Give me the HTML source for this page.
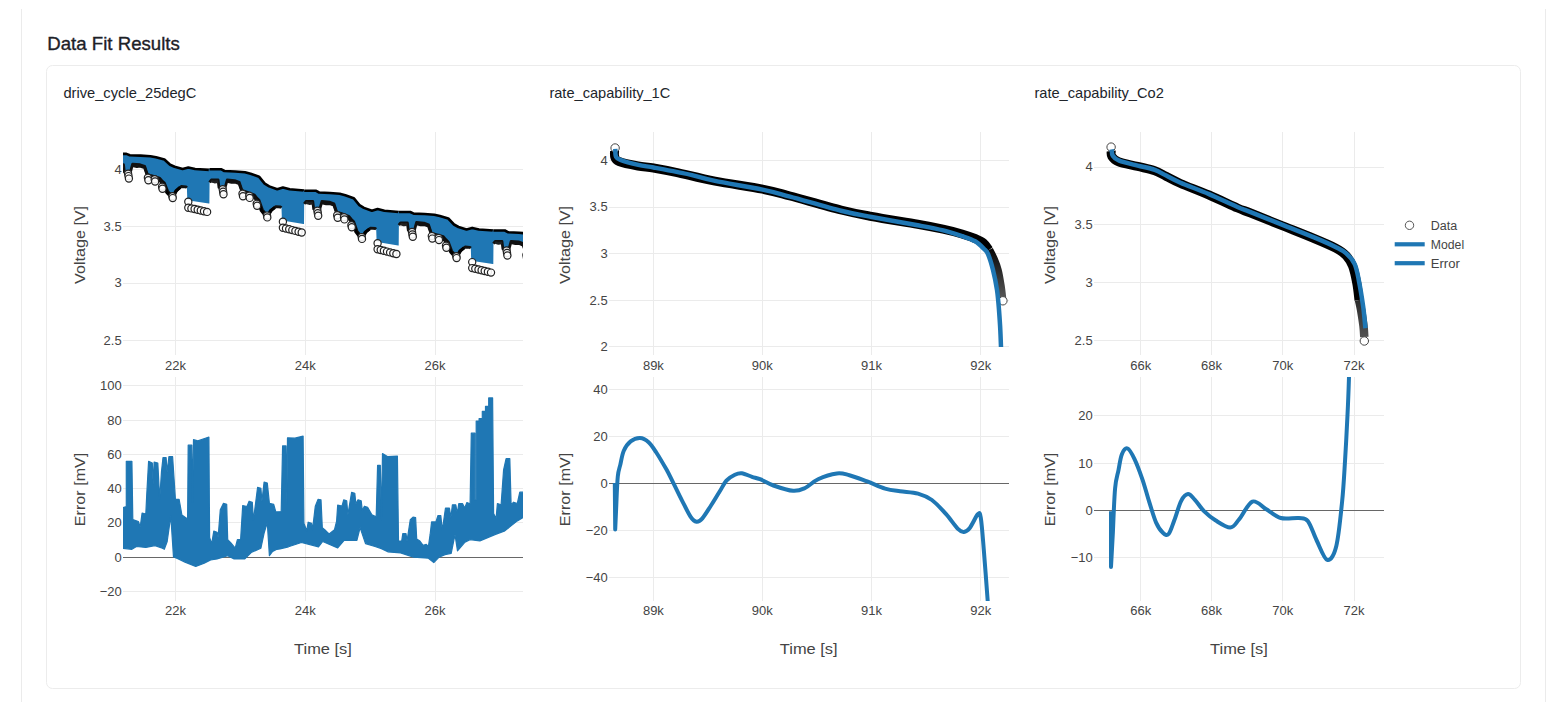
<!DOCTYPE html>
<html><head><meta charset="utf-8"><title>Data Fit Results</title>
<style>html,body{margin:0;padding:0;background:#fff;width:1566px;height:702px;overflow:hidden}</style>
</head><body>
<svg width="1566" height="702" viewBox="0 0 1566 702" style="position:absolute;left:0;top:0;font-family:'Liberation Sans',sans-serif">
<rect x="21" y="9" width="1" height="700" fill="#ebebeb"/>
<rect x="1545" y="9" width="1" height="700" fill="#ebebeb"/>
<rect x="46.5" y="65.5" width="1474" height="623" rx="6" ry="6" fill="#fff" stroke="#ececec" stroke-width="1"/>
<text x="47.3" y="49.7" font-size="18.6" text-anchor="start" fill="#1d2127" textLength="132.5" lengthAdjust="spacingAndGlyphs" font-weight="400" stroke="#1d2127" stroke-width="0.35">Data Fit Results</text>
<text x="63.4" y="97.7" font-size="14.6" text-anchor="start" fill="#21252b" textLength="133" lengthAdjust="spacingAndGlyphs" >drive_cycle_25degC</text>
<line x1="175.5" y1="132" x2="175.5" y2="355" stroke="#ebebeb" stroke-width="1" shape-rendering="crispEdges"/>
<line x1="305.3" y1="132" x2="305.3" y2="355" stroke="#ebebeb" stroke-width="1" shape-rendering="crispEdges"/>
<line x1="435.1" y1="132" x2="435.1" y2="355" stroke="#ebebeb" stroke-width="1" shape-rendering="crispEdges"/>
<line x1="123" y1="169.5" x2="523" y2="169.5" stroke="#ebebeb" stroke-width="1" shape-rendering="crispEdges"/>
<line x1="123" y1="226.3" x2="523" y2="226.3" stroke="#ebebeb" stroke-width="1" shape-rendering="crispEdges"/>
<line x1="123" y1="283.0" x2="523" y2="283.0" stroke="#ebebeb" stroke-width="1" shape-rendering="crispEdges"/>
<line x1="123" y1="340.7" x2="523" y2="340.7" stroke="#ebebeb" stroke-width="1" shape-rendering="crispEdges"/>
<line x1="175.5" y1="377" x2="175.5" y2="601" stroke="#ebebeb" stroke-width="1" shape-rendering="crispEdges"/>
<line x1="305.3" y1="377" x2="305.3" y2="601" stroke="#ebebeb" stroke-width="1" shape-rendering="crispEdges"/>
<line x1="435.1" y1="377" x2="435.1" y2="601" stroke="#ebebeb" stroke-width="1" shape-rendering="crispEdges"/>
<line x1="123" y1="385.9" x2="523" y2="385.9" stroke="#ebebeb" stroke-width="1" shape-rendering="crispEdges"/>
<line x1="123" y1="420.4" x2="523" y2="420.4" stroke="#ebebeb" stroke-width="1" shape-rendering="crispEdges"/>
<line x1="123" y1="454.6" x2="523" y2="454.6" stroke="#ebebeb" stroke-width="1" shape-rendering="crispEdges"/>
<line x1="123" y1="488.8" x2="523" y2="488.8" stroke="#ebebeb" stroke-width="1" shape-rendering="crispEdges"/>
<line x1="123" y1="522.6" x2="523" y2="522.6" stroke="#ebebeb" stroke-width="1" shape-rendering="crispEdges"/>
<line x1="123" y1="557.2" x2="523" y2="557.2" stroke="#ebebeb" stroke-width="1" shape-rendering="crispEdges"/>
<line x1="123" y1="591.4" x2="523" y2="591.4" stroke="#ebebeb" stroke-width="1" shape-rendering="crispEdges"/>
<line x1="123" y1="557.2" x2="523" y2="557.2" stroke="#676767" stroke-width="1" shape-rendering="crispEdges"/>
<text x="175.5" y="370.3" font-size="13" text-anchor="middle" fill="#444" >22k</text>
<text x="175.5" y="615" font-size="13" text-anchor="middle" fill="#444" >22k</text>
<text x="305.3" y="370.3" font-size="13" text-anchor="middle" fill="#444" >24k</text>
<text x="305.3" y="615" font-size="13" text-anchor="middle" fill="#444" >24k</text>
<text x="435.1" y="370.3" font-size="13" text-anchor="middle" fill="#444" >26k</text>
<text x="435.1" y="615" font-size="13" text-anchor="middle" fill="#444" >26k</text>
<text x="121.7" y="173.9" font-size="13" text-anchor="end" fill="#444" >4</text>
<text x="121.7" y="230.70000000000002" font-size="13" text-anchor="end" fill="#444" >3.5</text>
<text x="121.7" y="287.4" font-size="13" text-anchor="end" fill="#444" >3</text>
<text x="121.7" y="345.09999999999997" font-size="13" text-anchor="end" fill="#444" >2.5</text>
<text x="121.7" y="390.29999999999995" font-size="13" text-anchor="end" fill="#444" >100</text>
<text x="121.7" y="424.79999999999995" font-size="13" text-anchor="end" fill="#444" >80</text>
<text x="121.7" y="459.0" font-size="13" text-anchor="end" fill="#444" >60</text>
<text x="121.7" y="493.2" font-size="13" text-anchor="end" fill="#444" >40</text>
<text x="121.7" y="527.0" font-size="13" text-anchor="end" fill="#444" >20</text>
<text x="121.7" y="561.6" font-size="13" text-anchor="end" fill="#444" >0</text>
<text x="121.7" y="595.8" font-size="13" text-anchor="end" fill="#444" >−20</text>
<text x="0" y="0" font-size="14" text-anchor="middle" fill="#444" textLength="78" lengthAdjust="spacingAndGlyphs" transform="translate(85,244.9) rotate(-90)">Voltage [V]</text>
<text x="0" y="0" font-size="14" text-anchor="middle" fill="#444" textLength="73.5" lengthAdjust="spacingAndGlyphs" transform="translate(85,489.4) rotate(-90)">Error [mV]</text>
<text x="323.0" y="653.8" font-size="14" text-anchor="middle" fill="#444" textLength="57.8" lengthAdjust="spacingAndGlyphs" >Time [s]</text>
<text x="549.4" y="97.7" font-size="14.6" text-anchor="start" fill="#21252b" >rate_capability_1C</text>
<line x1="653.4" y1="132" x2="653.4" y2="355" stroke="#ebebeb" stroke-width="1" shape-rendering="crispEdges"/>
<line x1="762.2" y1="132" x2="762.2" y2="355" stroke="#ebebeb" stroke-width="1" shape-rendering="crispEdges"/>
<line x1="871.5" y1="132" x2="871.5" y2="355" stroke="#ebebeb" stroke-width="1" shape-rendering="crispEdges"/>
<line x1="980.7" y1="132" x2="980.7" y2="355" stroke="#ebebeb" stroke-width="1" shape-rendering="crispEdges"/>
<line x1="609" y1="160.2" x2="1008.5" y2="160.2" stroke="#ebebeb" stroke-width="1" shape-rendering="crispEdges"/>
<line x1="609" y1="207.0" x2="1008.5" y2="207.0" stroke="#ebebeb" stroke-width="1" shape-rendering="crispEdges"/>
<line x1="609" y1="253.7" x2="1008.5" y2="253.7" stroke="#ebebeb" stroke-width="1" shape-rendering="crispEdges"/>
<line x1="609" y1="300.4" x2="1008.5" y2="300.4" stroke="#ebebeb" stroke-width="1" shape-rendering="crispEdges"/>
<line x1="609" y1="346.9" x2="1008.5" y2="346.9" stroke="#ebebeb" stroke-width="1" shape-rendering="crispEdges"/>
<line x1="653.4" y1="377" x2="653.4" y2="601" stroke="#ebebeb" stroke-width="1" shape-rendering="crispEdges"/>
<line x1="762.2" y1="377" x2="762.2" y2="601" stroke="#ebebeb" stroke-width="1" shape-rendering="crispEdges"/>
<line x1="871.5" y1="377" x2="871.5" y2="601" stroke="#ebebeb" stroke-width="1" shape-rendering="crispEdges"/>
<line x1="980.7" y1="377" x2="980.7" y2="601" stroke="#ebebeb" stroke-width="1" shape-rendering="crispEdges"/>
<line x1="609" y1="389.2" x2="1008.5" y2="389.2" stroke="#ebebeb" stroke-width="1" shape-rendering="crispEdges"/>
<line x1="609" y1="436.5" x2="1008.5" y2="436.5" stroke="#ebebeb" stroke-width="1" shape-rendering="crispEdges"/>
<line x1="609" y1="483.3" x2="1008.5" y2="483.3" stroke="#ebebeb" stroke-width="1" shape-rendering="crispEdges"/>
<line x1="609" y1="530.5" x2="1008.5" y2="530.5" stroke="#ebebeb" stroke-width="1" shape-rendering="crispEdges"/>
<line x1="609" y1="577.7" x2="1008.5" y2="577.7" stroke="#ebebeb" stroke-width="1" shape-rendering="crispEdges"/>
<line x1="609" y1="483.3" x2="1008.5" y2="483.3" stroke="#676767" stroke-width="1" shape-rendering="crispEdges"/>
<text x="653.4" y="370.3" font-size="13" text-anchor="middle" fill="#444" >89k</text>
<text x="653.4" y="615" font-size="13" text-anchor="middle" fill="#444" >89k</text>
<text x="762.2" y="370.3" font-size="13" text-anchor="middle" fill="#444" >90k</text>
<text x="762.2" y="615" font-size="13" text-anchor="middle" fill="#444" >90k</text>
<text x="871.5" y="370.3" font-size="13" text-anchor="middle" fill="#444" >91k</text>
<text x="871.5" y="615" font-size="13" text-anchor="middle" fill="#444" >91k</text>
<text x="980.7" y="370.3" font-size="13" text-anchor="middle" fill="#444" >92k</text>
<text x="980.7" y="615" font-size="13" text-anchor="middle" fill="#444" >92k</text>
<text x="607.7" y="164.6" font-size="13" text-anchor="end" fill="#444" >4</text>
<text x="607.7" y="211.4" font-size="13" text-anchor="end" fill="#444" >3.5</text>
<text x="607.7" y="258.09999999999997" font-size="13" text-anchor="end" fill="#444" >3</text>
<text x="607.7" y="304.79999999999995" font-size="13" text-anchor="end" fill="#444" >2.5</text>
<text x="607.7" y="351.29999999999995" font-size="13" text-anchor="end" fill="#444" >2</text>
<text x="607.7" y="393.59999999999997" font-size="13" text-anchor="end" fill="#444" >40</text>
<text x="607.7" y="440.9" font-size="13" text-anchor="end" fill="#444" >20</text>
<text x="607.7" y="487.7" font-size="13" text-anchor="end" fill="#444" >0</text>
<text x="607.7" y="534.9" font-size="13" text-anchor="end" fill="#444" >−20</text>
<text x="607.7" y="582.1" font-size="13" text-anchor="end" fill="#444" >−40</text>
<text x="0" y="0" font-size="14" text-anchor="middle" fill="#444" textLength="78" lengthAdjust="spacingAndGlyphs" transform="translate(570,244.9) rotate(-90)">Voltage [V]</text>
<text x="0" y="0" font-size="14" text-anchor="middle" fill="#444" textLength="73.5" lengthAdjust="spacingAndGlyphs" transform="translate(570,489.4) rotate(-90)">Error [mV]</text>
<text x="808.75" y="653.8" font-size="14" text-anchor="middle" fill="#444" textLength="57.8" lengthAdjust="spacingAndGlyphs" >Time [s]</text>
<text x="1034.4" y="97.7" font-size="14.6" text-anchor="start" fill="#21252b" textLength="129.4" lengthAdjust="spacingAndGlyphs" >rate_capability_Co2</text>
<line x1="1140.8" y1="132" x2="1140.8" y2="355" stroke="#ebebeb" stroke-width="1" shape-rendering="crispEdges"/>
<line x1="1211.6" y1="132" x2="1211.6" y2="355" stroke="#ebebeb" stroke-width="1" shape-rendering="crispEdges"/>
<line x1="1282.8" y1="132" x2="1282.8" y2="355" stroke="#ebebeb" stroke-width="1" shape-rendering="crispEdges"/>
<line x1="1354.0" y1="132" x2="1354.0" y2="355" stroke="#ebebeb" stroke-width="1" shape-rendering="crispEdges"/>
<line x1="1094" y1="167.0" x2="1384" y2="167.0" stroke="#ebebeb" stroke-width="1" shape-rendering="crispEdges"/>
<line x1="1094" y1="224.8" x2="1384" y2="224.8" stroke="#ebebeb" stroke-width="1" shape-rendering="crispEdges"/>
<line x1="1094" y1="282.2" x2="1384" y2="282.2" stroke="#ebebeb" stroke-width="1" shape-rendering="crispEdges"/>
<line x1="1094" y1="340.4" x2="1384" y2="340.4" stroke="#ebebeb" stroke-width="1" shape-rendering="crispEdges"/>
<line x1="1140.8" y1="377" x2="1140.8" y2="601" stroke="#ebebeb" stroke-width="1" shape-rendering="crispEdges"/>
<line x1="1211.6" y1="377" x2="1211.6" y2="601" stroke="#ebebeb" stroke-width="1" shape-rendering="crispEdges"/>
<line x1="1282.8" y1="377" x2="1282.8" y2="601" stroke="#ebebeb" stroke-width="1" shape-rendering="crispEdges"/>
<line x1="1354.0" y1="377" x2="1354.0" y2="601" stroke="#ebebeb" stroke-width="1" shape-rendering="crispEdges"/>
<line x1="1094" y1="415.7" x2="1384" y2="415.7" stroke="#ebebeb" stroke-width="1" shape-rendering="crispEdges"/>
<line x1="1094" y1="463.2" x2="1384" y2="463.2" stroke="#ebebeb" stroke-width="1" shape-rendering="crispEdges"/>
<line x1="1094" y1="510.2" x2="1384" y2="510.2" stroke="#ebebeb" stroke-width="1" shape-rendering="crispEdges"/>
<line x1="1094" y1="557.6" x2="1384" y2="557.6" stroke="#ebebeb" stroke-width="1" shape-rendering="crispEdges"/>
<line x1="1094" y1="510.2" x2="1384" y2="510.2" stroke="#676767" stroke-width="1" shape-rendering="crispEdges"/>
<text x="1140.8" y="370.3" font-size="13" text-anchor="middle" fill="#444" >66k</text>
<text x="1140.8" y="615" font-size="13" text-anchor="middle" fill="#444" >66k</text>
<text x="1211.6" y="370.3" font-size="13" text-anchor="middle" fill="#444" >68k</text>
<text x="1211.6" y="615" font-size="13" text-anchor="middle" fill="#444" >68k</text>
<text x="1282.8" y="370.3" font-size="13" text-anchor="middle" fill="#444" >70k</text>
<text x="1282.8" y="615" font-size="13" text-anchor="middle" fill="#444" >70k</text>
<text x="1354.0" y="370.3" font-size="13" text-anchor="middle" fill="#444" >72k</text>
<text x="1354.0" y="615" font-size="13" text-anchor="middle" fill="#444" >72k</text>
<text x="1092.7" y="171.4" font-size="13" text-anchor="end" fill="#444" >4</text>
<text x="1092.7" y="229.20000000000002" font-size="13" text-anchor="end" fill="#444" >3.5</text>
<text x="1092.7" y="286.59999999999997" font-size="13" text-anchor="end" fill="#444" >3</text>
<text x="1092.7" y="344.79999999999995" font-size="13" text-anchor="end" fill="#444" >2.5</text>
<text x="1092.7" y="420.09999999999997" font-size="13" text-anchor="end" fill="#444" >20</text>
<text x="1092.7" y="467.59999999999997" font-size="13" text-anchor="end" fill="#444" >10</text>
<text x="1092.7" y="514.6" font-size="13" text-anchor="end" fill="#444" >0</text>
<text x="1092.7" y="562.0" font-size="13" text-anchor="end" fill="#444" >−10</text>
<text x="0" y="0" font-size="14" text-anchor="middle" fill="#444" textLength="78" lengthAdjust="spacingAndGlyphs" transform="translate(1055,244.9) rotate(-90)">Voltage [V]</text>
<text x="0" y="0" font-size="14" text-anchor="middle" fill="#444" textLength="73.5" lengthAdjust="spacingAndGlyphs" transform="translate(1055,489.4) rotate(-90)">Error [mV]</text>
<text x="1239.0" y="653.8" font-size="14" text-anchor="middle" fill="#444" textLength="57.8" lengthAdjust="spacingAndGlyphs" >Time [s]</text>
<defs><clipPath id="c1t"><rect x="123" y="132" width="400" height="223"/></clipPath><clipPath id="c1b"><rect x="123" y="377" width="400" height="224"/></clipPath><clipPath id="c2t"><rect x="609" y="132" width="400" height="215"/></clipPath><clipPath id="c2b"><rect x="609" y="377" width="400" height="224"/></clipPath><clipPath id="c3t"><rect x="1096" y="132" width="288" height="223"/></clipPath><clipPath id="c3b"><rect x="1096" y="377" width="288" height="224"/></clipPath><linearGradient id="g2" gradientUnits="userSpaceOnUse" x1="0" y1="245" x2="0" y2="300"><stop offset="0" stop-color="#000"/><stop offset="1" stop-color="#5a5a5a"/></linearGradient><linearGradient id="g3" gradientUnits="userSpaceOnUse" x1="0" y1="260" x2="0" y2="340"><stop offset="0" stop-color="#000"/><stop offset="1" stop-color="#555"/></linearGradient></defs>
<g clip-path="url(#c2t)">
<path d="M614.6,151.0 C614.6,152.0 614.1,155.2 614.8,157.0 C615.5,158.8 615.1,160.0 619.0,161.5 C622.9,163.0 632.2,164.9 638.0,166.0 C643.8,167.1 647.3,166.9 653.6,168.0 C659.9,169.1 665.8,170.1 676.0,172.3 C686.2,174.5 700.6,178.4 715.0,181.2 C729.4,184.0 750.0,186.7 762.5,189.2 C775.0,191.7 776.9,192.5 790.0,196.0 C803.1,199.5 827.4,206.6 841.0,210.0 C854.6,213.4 858.9,214.1 871.7,216.5 C884.5,218.9 905.8,222.2 917.7,224.3 C929.6,226.4 935.6,227.6 943.0,229.2 C950.4,230.8 956.7,232.4 962.0,234.0 C967.3,235.6 971.4,237.0 975.0,238.5 C978.6,240.0 981.2,241.1 983.5,243.0 C985.8,244.9 988.1,248.8 989.0,250.0" fill="none" stroke="#000" stroke-width="9" stroke-linejoin="round" stroke-linecap="butt" />
<path d="M989.0,250.0 C989.8,251.5 992.1,255.7 993.5,259.0 C994.9,262.3 996.3,265.5 997.5,270.0 C998.7,274.5 999.7,281.0 1000.5,286.0 C1001.3,291.0 1001.9,297.7 1002.2,300.0" fill="none" stroke="url(#g2)" stroke-width="8.5" stroke-linejoin="round" stroke-linecap="butt" />
<circle cx="615.1" cy="148.0" r="4.2" fill="#fff" stroke="#444" stroke-width="1" />
<circle cx="1002.9" cy="300.8" r="4.2" fill="#fff" stroke="#444" stroke-width="1" />
<path d="M615.3,148.9 C615.4,150.2 615.1,154.8 616.0,156.6 C616.9,158.4 616.7,158.4 620.4,159.8 C624.1,161.2 632.8,163.6 638.3,164.9 C643.8,166.2 647.2,166.3 653.6,167.5 C660.0,168.7 670.2,170.6 676.6,171.9 C683.0,173.2 685.6,173.6 692.0,175.1 C698.4,176.6 703.2,178.5 715.0,180.9 C726.8,183.3 750.0,187.0 762.5,189.6 C775.0,192.2 776.9,193.1 790.0,196.6 C803.1,200.1 827.5,207.3 841.1,210.7 C854.7,214.1 858.9,214.6 871.7,217.0 C884.5,219.4 905.8,223.1 917.7,225.3 C929.6,227.5 935.8,228.6 943.3,230.4 C950.8,232.2 957.1,234.4 962.4,236.2 C967.7,238.0 971.6,239.2 975.2,241.3 C978.8,243.4 982.0,246.9 984.1,249.0 C986.2,251.1 986.5,250.5 988.0,254.0 C989.5,257.5 991.5,264.0 993.0,270.0 C994.5,276.0 996.0,283.3 997.0,290.0 C998.0,296.7 998.5,303.4 999.0,310.0 C999.5,316.6 1000.0,323.6 1000.3,329.8 C1000.6,336.0 1000.9,344.1 1001.0,347.0" fill="none" stroke="#1f77b4" stroke-width="4.5" stroke-linejoin="round" stroke-linecap="butt" />
</g>
<g clip-path="url(#c2b)">
<polyline points="614.8,483.0 615.2,529.5 616.3,505.0" fill="none" stroke="#1f77b4" stroke-width="4" stroke-linejoin="round" stroke-linecap="butt" />
<path d="M616.3,505.0 C616.5,500.2 617.1,483.2 617.8,476.4 C618.5,469.6 619.4,468.7 620.4,464.4 C621.4,460.1 622.1,454.6 623.8,450.8 C625.5,447.0 627.9,443.5 630.6,441.4 C633.3,439.3 637.0,437.9 640.0,438.0 C643.0,438.1 645.9,439.8 648.6,442.2 C651.3,444.6 653.3,447.9 656.3,452.5 C659.3,457.1 663.6,464.5 666.5,469.6 C669.4,474.7 670.8,478.1 673.4,483.2 C676.0,488.3 679.0,494.7 681.9,500.3 C684.8,505.9 688.1,513.0 690.5,516.6 C692.9,520.2 694.5,521.4 696.5,521.7 C698.5,522.0 700.0,521.0 702.4,518.3 C704.8,515.6 708.1,509.9 711.0,505.5 C713.9,501.1 716.9,495.9 719.5,491.8 C722.1,487.7 723.8,483.6 726.4,480.7 C729.0,477.8 732.3,475.9 734.9,474.7 C737.5,473.5 738.9,472.9 741.8,473.3 C744.6,473.7 749.0,475.8 752.0,476.8 C755.0,477.8 756.4,477.8 760.0,479.2 C763.6,480.6 767.9,483.6 773.4,485.5 C778.9,487.4 787.9,490.4 793.1,490.8 C798.3,491.2 800.5,490.1 804.7,488.2 C808.9,486.3 812.7,481.7 818.1,479.2 C823.5,476.7 831.7,474.1 836.9,473.4 C842.1,472.7 844.3,473.9 849.4,475.2 C854.5,476.5 861.2,479.2 867.2,481.4 C873.2,483.6 879.6,487.0 885.1,488.6 C890.6,490.2 894.5,490.5 900.0,491.3 C905.5,492.1 912.7,492.2 918.0,493.6 C923.3,495.1 927.2,496.6 931.9,500.0 C936.5,503.4 941.6,509.1 945.9,513.9 C950.2,518.7 954.9,525.9 957.9,528.9 C960.9,531.9 961.9,532.1 963.9,531.9 C965.9,531.7 967.5,530.8 969.8,527.9 C972.1,525.0 976.0,516.0 977.8,514.3 C979.6,512.6 979.8,512.0 980.8,517.9 C981.8,523.8 982.6,535.3 983.8,549.8 C985.0,564.3 987.3,595.8 988.0,605.0" fill="none" stroke="#1f77b4" stroke-width="4" stroke-linejoin="round" stroke-linecap="butt" />
</g>
<g clip-path="url(#c3t)">
<path d="M1111.2,151.0 C1111.3,151.9 1110.6,154.7 1111.8,156.5 C1113.0,158.3 1114.2,160.2 1118.5,161.8 C1122.8,163.5 1131.7,164.9 1137.7,166.4 C1143.8,167.9 1150.0,169.0 1154.8,170.7 C1159.5,172.4 1161.9,174.3 1166.2,176.4 C1170.5,178.5 1173.4,180.4 1180.5,183.5 C1187.6,186.6 1199.5,190.9 1209.0,195.0 C1218.5,199.1 1230.7,205.0 1237.5,208.0 C1244.3,211.0 1242.6,209.9 1250.0,212.8 C1257.4,215.7 1271.3,221.3 1282.0,225.6 C1292.7,229.9 1305.2,234.8 1314.1,238.5 C1323.0,242.2 1330.2,245.2 1335.5,248.0 C1340.8,250.8 1343.4,252.6 1346.2,255.6 C1349.0,258.6 1350.8,261.6 1352.6,266.2 C1354.4,270.8 1355.7,277.7 1356.8,283.3 C1357.9,288.9 1358.6,297.2 1359.0,300.0" fill="none" stroke="#000" stroke-width="9" stroke-linejoin="round" stroke-linecap="butt" />
<path d="M1359.0,300.0 C1359.3,301.7 1360.3,305.7 1361.1,310.0 C1361.8,314.3 1363.0,321.5 1363.5,326.0 C1364.0,330.5 1364.2,335.2 1364.3,337.0" fill="none" stroke="url(#g3)" stroke-width="8.5" stroke-linejoin="round" stroke-linecap="butt" />
<circle cx="1111.1" cy="147.1" r="4.2" fill="#fff" stroke="#444" stroke-width="1" />
<circle cx="1364.3" cy="341.0" r="4.2" fill="#fff" stroke="#444" stroke-width="1" />
<path d="M1111.7,149.3 C1111.9,150.4 1111.5,153.8 1112.8,155.7 C1114.0,157.6 1115.0,159.0 1119.2,160.7 C1123.4,162.3 1131.8,164.1 1137.7,165.6 C1143.6,167.1 1150.0,168.2 1154.8,169.9 C1159.5,171.6 1161.9,173.5 1166.2,175.6 C1170.5,177.7 1173.4,179.6 1180.5,182.7 C1187.6,185.8 1199.5,190.0 1209.0,194.1 C1218.5,198.2 1230.7,204.1 1237.5,207.0 C1244.3,209.9 1242.6,208.9 1250.0,211.8 C1257.4,214.7 1271.3,220.3 1282.0,224.6 C1292.7,228.9 1305.2,233.7 1314.1,237.4 C1323.0,241.1 1330.2,244.3 1335.5,247.0 C1340.8,249.7 1343.0,250.6 1346.2,253.4 C1349.4,256.2 1352.6,259.5 1354.7,264.1 C1356.8,268.7 1357.6,274.1 1359.0,281.2 C1360.4,288.3 1362.1,299.0 1363.2,306.8 C1364.3,314.6 1365.0,324.6 1365.4,328.2" fill="none" stroke="#1f77b4" stroke-width="4.5" stroke-linejoin="round" stroke-linecap="butt" />
</g>
<g clip-path="url(#c3b)">
<polyline points="1111.0,511.2 1111.0,567.0 1112.8,534.0" fill="none" stroke="#1f77b4" stroke-width="4" stroke-linejoin="round" stroke-linecap="butt" />
<path d="M1112.8,534.0 C1113.2,526.4 1114.1,499.0 1115.1,488.4 C1116.0,477.8 1117.4,475.8 1118.5,470.1 C1119.6,464.4 1120.4,457.8 1121.9,454.2 C1123.4,450.6 1125.5,447.7 1127.6,448.5 C1129.7,449.3 1131.9,453.7 1134.4,458.8 C1136.9,463.9 1139.9,472.1 1142.4,479.3 C1144.9,486.5 1147.0,494.9 1149.3,502.1 C1151.6,509.3 1153.8,517.5 1156.1,522.6 C1158.4,527.7 1160.8,530.9 1162.9,532.8 C1165.0,534.7 1166.7,536.1 1168.6,534.0 C1170.5,531.9 1172.2,525.8 1174.3,520.3 C1176.4,514.8 1178.9,505.3 1181.2,500.9 C1183.5,496.5 1185.7,494.3 1188.0,494.1 C1190.3,493.9 1192.2,497.0 1194.9,499.8 C1197.6,502.6 1200.6,507.8 1204.0,511.2 C1207.4,514.6 1211.0,517.6 1215.4,520.3 C1219.8,523.0 1226.3,527.6 1230.2,527.5 C1234.1,527.4 1235.3,523.8 1239.0,519.5 C1242.7,515.2 1247.9,503.4 1252.4,501.6 C1256.9,499.9 1261.2,506.3 1265.9,509.0 C1270.6,511.7 1275.3,516.5 1280.8,518.0 C1286.3,519.5 1294.3,517.5 1298.8,518.0 C1303.3,518.5 1304.8,517.2 1307.8,521.0 C1310.8,524.8 1313.5,534.0 1316.7,540.5 C1319.9,547.0 1324.0,558.9 1327.2,559.9 C1330.5,560.9 1333.7,556.1 1336.2,546.4 C1338.7,536.7 1340.6,516.1 1342.1,501.6 C1343.6,487.2 1344.2,474.1 1345.1,459.7 C1346.0,445.2 1346.8,428.7 1347.5,414.9 C1348.2,401.1 1348.8,383.3 1349.0,377.0" fill="none" stroke="#1f77b4" stroke-width="4" stroke-linejoin="round" stroke-linecap="butt" />
</g>
<circle cx="1409.5" cy="225.3" r="4.2" fill="#fff" stroke="#555" stroke-width="1" />
<rect x="1394.7" y="242.2" width="30" height="4.2" fill="#1f77b4"/>
<rect x="1394.7" y="261.1" width="30" height="4.2" fill="#1f77b4"/>
<text x="1430.8" y="229.9" font-size="12" fill="#444" textLength="26.4" lengthAdjust="spacingAndGlyphs">Data</text>
<text x="1430.8" y="248.9" font-size="12" fill="#444" textLength="33.3" lengthAdjust="spacingAndGlyphs">Model</text>
<text x="1430.8" y="267.8" font-size="12" fill="#444" textLength="29" lengthAdjust="spacingAndGlyphs">Error</text>
<g clip-path="url(#c1b)">
<polygon points="123.2,507.6 126.3,506.7 126.3,461.3 131.9,461.3 132.8,519.6 138.4,521.5 140.2,527.0 142.1,513.1 145.8,514.1 146.7,495.6 148.6,461.3 152.3,463.1 153.2,484.4 154.1,462.2 157.8,463.1 159.7,499.3 161.5,471.5 163.0,457.6 166.1,457.6 167.1,472.4 168.9,456.7 172.6,456.7 175.4,499.3 179.1,499.3 181.9,515.0 186.5,518.3 187.6,518.3 188.2,445.2 191.8,445.2 192.5,502.3 193.5,439.7 197.8,440.9 205.3,438.2 208.9,437.1 209.6,537.5 211.7,543.9 213.8,531.1 217.1,532.2 218.1,537.5 220.3,509.7 223.5,503.3 226.7,504.4 227.7,539.7 230.9,542.9 235.2,548.2 237.4,539.7 240.6,539.7 242.7,505.5 247.0,506.5 249.1,501.2 252.3,502.3 253.4,520.4 257.6,487.3 260.9,488.4 261.9,501.2 264.1,482.0 267.3,483.0 269.4,503.3 273.7,504.4 275.8,511.9 281.2,511.5 282.6,445.9 286.0,445.9 286.8,504.1 287.5,437.8 295.0,438.2 303.1,436.1 303.9,523.3 306.7,530.8 308.2,522.2 311.6,523.3 312.5,529.7 315.3,506.2 318.0,499.4 321.0,499.8 322.3,527.6 325.9,530.8 329.1,534.0 334.5,529.7 336.6,521.2 337.7,505.1 342.0,506.2 343.7,499.8 346.7,500.9 347.9,514.7 351.6,492.3 354.8,493.4 355.9,504.1 358.0,499.8 361.2,500.9 362.3,510.5 364.4,506.2 367.6,507.3 371.9,514.7 376.2,516.9 377.6,465.3 380.3,465.3 381.4,519.7 382.5,453.5 387.8,456.7 397.4,456.1 398.5,541.1 401.7,541.1 402.8,533.6 406.0,533.6 407.0,541.1 410.3,519.7 413.0,517.2 415.6,517.6 416.7,539.0 419.9,541.1 423.1,545.4 426.3,544.3 428.4,546.5 430.1,534.7 431.6,521.9 435.9,521.9 438.0,515.5 440.8,515.5 442.3,530.4 445.5,508.0 449.4,508.0 450.9,517.6 452.4,504.8 455.8,504.8 457.3,513.3 458.8,503.7 462.6,503.7 464.7,508.0 466.9,502.6 470.1,503.7 471.3,433.2 474.9,433.2 474.9,500.0 476.2,500.0 476.2,421.0 479.1,421.0 479.1,418.5 482.3,418.5 482.3,411.4 485.5,411.4 485.5,406.3 488.7,406.3 488.7,397.9 492.6,397.9 493.6,513.4 496.1,518.4 497.4,503.5 501.1,504.7 503.6,469.8 506.1,458.6 509.8,458.6 511.1,504.7 513.6,502.2 517.3,503.5 519.8,492.2 523.5,492.2 523.5,517.2 517.3,520.9 504.8,530.9 494.9,534.6 479.9,540.9 470.0,539.6 465.0,542.1 457.5,550.8 455.0,534.6 451.2,553.3 445.0,554.6 439.1,557.1 433.8,562.5 428.4,558.2 413.5,557.1 400.6,552.9 387.8,551.8 381.4,548.6 375.0,546.5 365.5,543.6 360.1,527.6 356.9,540.4 344.1,540.4 337.7,547.9 322.7,541.5 318.5,546.8 301.4,542.5 288.5,546.8 280.0,548.9 276.9,549.3 272.6,551.4 269.4,555.7 267.3,522.6 264.1,533.2 260.9,548.2 251.2,552.5 244.8,558.9 234.1,558.9 227.7,555.7 217.1,558.9 210.6,560.0 204.2,563.2 195.7,566.4 185.0,562.1 177.3,558.5 173.5,557.0 170.8,515.9 167.1,541.9 164.3,549.3 162.4,548.3 155.0,545.6 145.8,547.4 136.5,546.5 131.9,549.3 122.5,548.3" fill="#1f77b4" stroke="#1f77b4" stroke-width="1.2" stroke-linejoin="round"/>
</g>
<g clip-path="url(#c1t)">
<polygon points="114.1,153.9 126.4,153.9 129.8,155.2 140.6,155.6 150.4,156.2 156.0,157.3 164.4,159.5 170.1,164.7 174.6,166.8 182.6,169.0 188.3,167.6 195.1,169.0 209.4,169.9 209.7,169.9 209.4,203.4 208.8,203.4 192.3,201.1 187.3,199.7 186.9,187.7 186.0,186.9 181.2,186.5 176.9,190.2 174.4,194.9 170.9,194.7 167.8,191.6 164.4,183.0 161.9,180.7 159.4,178.0 153.7,176.4 147.4,174.7 144.6,166.3 140.0,164.7 132.6,164.2 130.4,172.2 126.4,172.7 124.4,172.2 123.5,164.7 116.7,164.7 114.1,167.0" fill="#1f77b4"/>
<polyline points="114.9,167.0 116.7,164.7 123.5,164.7 124.4,172.2 126.4,172.7 130.4,172.2 132.6,164.2 140.0,164.7 144.6,166.3 147.4,174.7 153.7,176.4 159.4,178.0 161.9,180.7 164.4,183.0 167.8,191.6 170.9,194.7 174.4,194.9 176.9,190.2 181.2,186.5 186.0,186.9 186.9,187.7" fill="none" stroke="#111" stroke-width="2.8" stroke-linejoin="round" stroke-linecap="butt" />
<polyline points="158.4,178.8 160.9,181.5 163.4,183.8 166.8,192.4 169.9,195.5 173.4,195.7 175.9,191.0 180.2,187.3" fill="none" stroke="#000" stroke-width="3.2" stroke-linejoin="round" stroke-linecap="butt" />
<polyline points="132.6,165.6 136.9,166.6 140.0,166.1 144.6,167.8 147.4,175.8 150.9,177.1 154.9,177.3 159.4,179.5 162.9,183.7" fill="none" stroke="#111" stroke-width="2.8" stroke-linejoin="round" stroke-linecap="butt" />
<polyline points="116.7,165.9 119.9,166.7 123.5,166.2" fill="none" stroke="#222" stroke-width="2.8" stroke-linejoin="round" stroke-linecap="butt" />
<polyline points="114.9,153.9 126.4,153.9 129.8,155.2 140.6,155.6 150.4,156.2 156.0,157.3 164.4,159.5 170.1,164.7 174.6,166.8 182.6,169.0 188.3,167.6 195.1,169.0 209.4,169.9" fill="none" stroke="#000" stroke-width="2.6" stroke-linejoin="round" stroke-linecap="butt" />
<circle cx="128.1" cy="173.7" r="3.6" fill="#fff" stroke="#222" stroke-width="1.2" fill-opacity="0.9"/>
<circle cx="128.5" cy="176.1" r="3.6" fill="#fff" stroke="#222" stroke-width="1.2" fill-opacity="0.9"/>
<circle cx="128.9" cy="178.6" r="3.6" fill="#fff" stroke="#222" stroke-width="1.2" fill-opacity="0.9"/>
<circle cx="147.9" cy="177.7" r="3.6" fill="#fff" stroke="#222" stroke-width="1.2" fill-opacity="0.9"/>
<circle cx="148.4" cy="180.2" r="3.6" fill="#fff" stroke="#222" stroke-width="1.2" fill-opacity="0.9"/>
<circle cx="154.7" cy="179.3" r="3.6" fill="#fff" stroke="#222" stroke-width="1.2" fill-opacity="0.9"/>
<circle cx="155.1" cy="181.5" r="3.6" fill="#fff" stroke="#222" stroke-width="1.2" fill-opacity="0.9"/>
<circle cx="162.1" cy="186.8" r="3.6" fill="#fff" stroke="#222" stroke-width="1.2" fill-opacity="0.9"/>
<circle cx="162.5" cy="188.8" r="3.6" fill="#fff" stroke="#222" stroke-width="1.2" fill-opacity="0.9"/>
<circle cx="172.4" cy="196.3" r="3.6" fill="#fff" stroke="#222" stroke-width="1.2" fill-opacity="0.9"/>
<circle cx="172.7" cy="198.1" r="3.6" fill="#fff" stroke="#222" stroke-width="1.2" fill-opacity="0.9"/>
<circle cx="188.3" cy="201.8" r="3.6" fill="#fff" stroke="#222" stroke-width="1.2" fill-opacity="0.9"/>
<circle cx="188.3" cy="207.8" r="3.6" fill="#fff" stroke="#222" stroke-width="1.2" fill-opacity="0.9"/>
<circle cx="191.4" cy="208.4" r="3.6" fill="#fff" stroke="#222" stroke-width="1.2" fill-opacity="0.9"/>
<circle cx="194.6" cy="209.0" r="3.6" fill="#fff" stroke="#222" stroke-width="1.2" fill-opacity="0.9"/>
<circle cx="197.7" cy="209.7" r="3.6" fill="#fff" stroke="#222" stroke-width="1.2" fill-opacity="0.9"/>
<circle cx="200.8" cy="210.5" r="3.6" fill="#fff" stroke="#222" stroke-width="1.2" fill-opacity="0.9"/>
<circle cx="204.0" cy="211.2" r="3.6" fill="#fff" stroke="#222" stroke-width="1.2" fill-opacity="0.9"/>
<circle cx="207.1" cy="211.9" r="3.6" fill="#fff" stroke="#222" stroke-width="1.2" fill-opacity="0.9"/>
<polygon points="208.7,169.2 221.0,169.2 224.4,171.0 235.2,171.5 245.0,172.3 250.6,173.8 259.0,176.7 264.7,183.6 269.2,186.4 277.2,189.3 282.9,187.5 289.7,189.3 304.0,190.5 304.3,190.5 304.0,224.0 303.4,224.0 286.9,221.2 281.9,219.7 281.5,207.7 280.6,207.0 275.8,206.7 271.5,210.0 269.0,214.5 265.5,213.7 262.4,209.8 259.0,200.2 256.5,197.7 254.0,194.7 248.3,192.7 242.0,190.7 239.2,182.3 234.6,180.6 227.2,180.0 225.0,188.0 221.0,188.0 219.0,187.5 218.1,180.0 211.3,180.0 208.7,182.3" fill="#1f77b4"/>
<polyline points="209.5,182.3 211.3,180.0 218.1,180.0 219.0,187.5 221.0,188.0 225.0,188.0 227.2,180.0 234.6,180.6 239.2,182.3 242.0,190.7 248.3,192.7 254.0,194.7 256.5,197.7 259.0,200.2 262.4,209.8 265.5,213.7 269.0,214.5 271.5,210.0 275.8,206.7 280.6,207.0 281.5,207.7" fill="none" stroke="#111" stroke-width="2.8" stroke-linejoin="round" stroke-linecap="butt" />
<polyline points="253.0,195.5 255.5,198.5 258.0,201.0 261.4,210.6 264.5,214.5 268.0,215.3 270.5,210.8 274.8,207.5" fill="none" stroke="#000" stroke-width="3.2" stroke-linejoin="round" stroke-linecap="butt" />
<polyline points="227.2,181.4 231.5,182.4 234.6,182.0 239.2,183.8 242.0,191.8 245.5,193.2 249.5,193.7 254.0,196.2 257.5,200.7" fill="none" stroke="#111" stroke-width="2.8" stroke-linejoin="round" stroke-linecap="butt" />
<polyline points="211.3,181.2 214.5,182.0 218.1,181.5" fill="none" stroke="#222" stroke-width="2.8" stroke-linejoin="round" stroke-linecap="butt" />
<polyline points="209.5,169.2 221.0,169.2 224.4,171.0 235.2,171.5 245.0,172.3 250.6,173.8 259.0,176.7 264.7,183.6 269.2,186.4 277.2,189.3 282.9,187.5 289.7,189.3 304.0,190.5" fill="none" stroke="#000" stroke-width="2.6" stroke-linejoin="round" stroke-linecap="butt" />
<circle cx="222.7" cy="189.2" r="3.6" fill="#fff" stroke="#222" stroke-width="1.2" fill-opacity="0.9"/>
<circle cx="223.1" cy="191.7" r="3.6" fill="#fff" stroke="#222" stroke-width="1.2" fill-opacity="0.9"/>
<circle cx="223.5" cy="194.2" r="3.6" fill="#fff" stroke="#222" stroke-width="1.2" fill-opacity="0.9"/>
<circle cx="242.5" cy="193.7" r="3.6" fill="#fff" stroke="#222" stroke-width="1.2" fill-opacity="0.9"/>
<circle cx="243.0" cy="196.2" r="3.6" fill="#fff" stroke="#222" stroke-width="1.2" fill-opacity="0.9"/>
<circle cx="249.3" cy="195.7" r="3.6" fill="#fff" stroke="#222" stroke-width="1.2" fill-opacity="0.9"/>
<circle cx="249.7" cy="197.9" r="3.6" fill="#fff" stroke="#222" stroke-width="1.2" fill-opacity="0.9"/>
<circle cx="256.7" cy="203.8" r="3.6" fill="#fff" stroke="#222" stroke-width="1.2" fill-opacity="0.9"/>
<circle cx="257.1" cy="205.8" r="3.6" fill="#fff" stroke="#222" stroke-width="1.2" fill-opacity="0.9"/>
<circle cx="267.0" cy="215.6" r="3.6" fill="#fff" stroke="#222" stroke-width="1.2" fill-opacity="0.9"/>
<circle cx="267.3" cy="217.4" r="3.6" fill="#fff" stroke="#222" stroke-width="1.2" fill-opacity="0.9"/>
<circle cx="282.9" cy="221.7" r="3.6" fill="#fff" stroke="#222" stroke-width="1.2" fill-opacity="0.9"/>
<circle cx="282.9" cy="227.7" r="3.6" fill="#fff" stroke="#222" stroke-width="1.2" fill-opacity="0.9"/>
<circle cx="286.0" cy="228.5" r="3.6" fill="#fff" stroke="#222" stroke-width="1.2" fill-opacity="0.9"/>
<circle cx="289.2" cy="229.3" r="3.6" fill="#fff" stroke="#222" stroke-width="1.2" fill-opacity="0.9"/>
<circle cx="292.3" cy="230.1" r="3.6" fill="#fff" stroke="#222" stroke-width="1.2" fill-opacity="0.9"/>
<circle cx="295.4" cy="230.9" r="3.6" fill="#fff" stroke="#222" stroke-width="1.2" fill-opacity="0.9"/>
<circle cx="298.6" cy="231.7" r="3.6" fill="#fff" stroke="#222" stroke-width="1.2" fill-opacity="0.9"/>
<circle cx="301.7" cy="232.5" r="3.6" fill="#fff" stroke="#222" stroke-width="1.2" fill-opacity="0.9"/>
<polygon points="303.4,190.7 315.7,190.7 319.1,192.5 329.9,193.0 339.7,193.8 345.3,195.3 353.7,198.2 359.4,205.1 363.9,207.9 371.9,210.8 377.6,209.0 384.4,210.8 398.7,212.0 399.0,212.0 398.7,245.5 398.1,245.5 381.6,242.7 376.6,241.2 376.2,229.2 375.3,228.5 370.5,228.2 366.2,231.5 363.7,236.0 360.2,235.2 357.1,231.3 353.7,221.7 351.2,219.2 348.7,216.2 343.0,214.2 336.7,212.2 333.9,203.8 329.3,202.1 321.9,201.5 319.7,209.5 315.7,209.5 313.7,209.0 312.8,201.5 306.0,201.5 303.4,203.8" fill="#1f77b4"/>
<polyline points="304.2,203.8 306.0,201.5 312.8,201.5 313.7,209.0 315.7,209.5 319.7,209.5 321.9,201.5 329.3,202.1 333.9,203.8 336.7,212.2 343.0,214.2 348.7,216.2 351.2,219.2 353.7,221.7 357.1,231.3 360.2,235.2 363.7,236.0 366.2,231.5 370.5,228.2 375.3,228.5 376.2,229.2" fill="none" stroke="#111" stroke-width="2.8" stroke-linejoin="round" stroke-linecap="butt" />
<polyline points="347.7,217.0 350.2,220.0 352.7,222.5 356.1,232.1 359.2,236.0 362.7,236.8 365.2,232.3 369.5,229.0" fill="none" stroke="#000" stroke-width="3.2" stroke-linejoin="round" stroke-linecap="butt" />
<polyline points="321.9,202.9 326.2,203.9 329.3,203.5 333.9,205.3 336.7,213.3 340.2,214.7 344.2,215.2 348.7,217.7 352.2,222.2" fill="none" stroke="#111" stroke-width="2.8" stroke-linejoin="round" stroke-linecap="butt" />
<polyline points="306.0,202.7 309.2,203.5 312.8,203.0" fill="none" stroke="#222" stroke-width="2.8" stroke-linejoin="round" stroke-linecap="butt" />
<polyline points="304.2,190.7 315.7,190.7 319.1,192.5 329.9,193.0 339.7,193.8 345.3,195.3 353.7,198.2 359.4,205.1 363.9,207.9 371.9,210.8 377.6,209.0 384.4,210.8 398.7,212.0" fill="none" stroke="#000" stroke-width="2.6" stroke-linejoin="round" stroke-linecap="butt" />
<circle cx="317.4" cy="210.7" r="3.6" fill="#fff" stroke="#222" stroke-width="1.2" fill-opacity="0.9"/>
<circle cx="317.8" cy="213.2" r="3.6" fill="#fff" stroke="#222" stroke-width="1.2" fill-opacity="0.9"/>
<circle cx="318.2" cy="215.7" r="3.6" fill="#fff" stroke="#222" stroke-width="1.2" fill-opacity="0.9"/>
<circle cx="337.2" cy="215.2" r="3.6" fill="#fff" stroke="#222" stroke-width="1.2" fill-opacity="0.9"/>
<circle cx="337.7" cy="217.7" r="3.6" fill="#fff" stroke="#222" stroke-width="1.2" fill-opacity="0.9"/>
<circle cx="344.0" cy="217.2" r="3.6" fill="#fff" stroke="#222" stroke-width="1.2" fill-opacity="0.9"/>
<circle cx="344.4" cy="219.4" r="3.6" fill="#fff" stroke="#222" stroke-width="1.2" fill-opacity="0.9"/>
<circle cx="351.4" cy="225.3" r="3.6" fill="#fff" stroke="#222" stroke-width="1.2" fill-opacity="0.9"/>
<circle cx="351.8" cy="227.3" r="3.6" fill="#fff" stroke="#222" stroke-width="1.2" fill-opacity="0.9"/>
<circle cx="361.7" cy="237.1" r="3.6" fill="#fff" stroke="#222" stroke-width="1.2" fill-opacity="0.9"/>
<circle cx="362.0" cy="238.9" r="3.6" fill="#fff" stroke="#222" stroke-width="1.2" fill-opacity="0.9"/>
<circle cx="377.6" cy="243.2" r="3.6" fill="#fff" stroke="#222" stroke-width="1.2" fill-opacity="0.9"/>
<circle cx="377.6" cy="249.2" r="3.6" fill="#fff" stroke="#222" stroke-width="1.2" fill-opacity="0.9"/>
<circle cx="380.7" cy="250.0" r="3.6" fill="#fff" stroke="#222" stroke-width="1.2" fill-opacity="0.9"/>
<circle cx="383.9" cy="250.8" r="3.6" fill="#fff" stroke="#222" stroke-width="1.2" fill-opacity="0.9"/>
<circle cx="387.0" cy="251.6" r="3.6" fill="#fff" stroke="#222" stroke-width="1.2" fill-opacity="0.9"/>
<circle cx="390.1" cy="252.4" r="3.6" fill="#fff" stroke="#222" stroke-width="1.2" fill-opacity="0.9"/>
<circle cx="393.3" cy="253.2" r="3.6" fill="#fff" stroke="#222" stroke-width="1.2" fill-opacity="0.9"/>
<circle cx="396.4" cy="254.0" r="3.6" fill="#fff" stroke="#222" stroke-width="1.2" fill-opacity="0.9"/>
<polygon points="398.0,212.0 410.3,212.0 413.7,213.6 424.5,214.0 434.3,214.7 439.9,216.0 448.3,218.5 454.0,224.5 458.5,227.0 466.5,229.5 472.2,227.9 479.0,229.5 493.3,230.5 493.6,230.5 493.3,264.0 492.7,264.0 476.2,261.5 471.2,260.1 470.8,248.1 469.9,247.3 465.1,247.0 460.8,250.5 458.3,255.1 454.8,254.6 451.7,251.1 448.3,242.0 445.8,239.6 443.3,236.7 437.6,235.0 431.3,233.1 428.5,224.8 423.9,223.1 416.5,222.5 414.3,230.6 410.3,230.8 408.3,230.3 407.4,222.8 400.6,222.8 398.0,225.1" fill="#1f77b4"/>
<polyline points="398.8,225.1 400.6,222.8 407.4,222.8 408.3,230.3 410.3,230.8 414.3,230.6 416.5,222.5 423.9,223.1 428.5,224.8 431.3,233.1 437.6,235.0 443.3,236.7 445.8,239.6 448.3,242.0 451.7,251.1 454.8,254.6 458.3,255.1 460.8,250.5 465.1,247.0 469.9,247.3 470.8,248.1" fill="none" stroke="#111" stroke-width="2.8" stroke-linejoin="round" stroke-linecap="butt" />
<polyline points="442.3,237.5 444.8,240.4 447.3,242.8 450.7,251.9 453.8,255.4 457.3,255.9 459.8,251.3 464.1,247.8" fill="none" stroke="#000" stroke-width="3.2" stroke-linejoin="round" stroke-linecap="butt" />
<polyline points="416.5,223.9 420.8,224.9 423.9,224.5 428.5,226.3 431.3,234.2 434.8,235.6 438.8,235.9 443.3,238.2 446.8,242.6" fill="none" stroke="#111" stroke-width="2.8" stroke-linejoin="round" stroke-linecap="butt" />
<polyline points="400.6,224.0 403.8,224.8 407.4,224.3" fill="none" stroke="#222" stroke-width="2.8" stroke-linejoin="round" stroke-linecap="butt" />
<polyline points="398.8,212.0 410.3,212.0 413.7,213.6 424.5,214.0 434.3,214.7 439.9,216.0 448.3,218.5 454.0,224.5 458.5,227.0 466.5,229.5 472.2,227.9 479.0,229.5 493.3,230.5" fill="none" stroke="#000" stroke-width="2.6" stroke-linejoin="round" stroke-linecap="butt" />
<circle cx="412.0" cy="231.9" r="3.6" fill="#fff" stroke="#222" stroke-width="1.2" fill-opacity="0.9"/>
<circle cx="412.4" cy="234.4" r="3.6" fill="#fff" stroke="#222" stroke-width="1.2" fill-opacity="0.9"/>
<circle cx="412.8" cy="236.8" r="3.6" fill="#fff" stroke="#222" stroke-width="1.2" fill-opacity="0.9"/>
<circle cx="431.8" cy="236.1" r="3.6" fill="#fff" stroke="#222" stroke-width="1.2" fill-opacity="0.9"/>
<circle cx="432.3" cy="238.6" r="3.6" fill="#fff" stroke="#222" stroke-width="1.2" fill-opacity="0.9"/>
<circle cx="438.6" cy="237.9" r="3.6" fill="#fff" stroke="#222" stroke-width="1.2" fill-opacity="0.9"/>
<circle cx="439.0" cy="240.1" r="3.6" fill="#fff" stroke="#222" stroke-width="1.2" fill-opacity="0.9"/>
<circle cx="446.0" cy="245.7" r="3.6" fill="#fff" stroke="#222" stroke-width="1.2" fill-opacity="0.9"/>
<circle cx="446.4" cy="247.7" r="3.6" fill="#fff" stroke="#222" stroke-width="1.2" fill-opacity="0.9"/>
<circle cx="456.3" cy="256.3" r="3.6" fill="#fff" stroke="#222" stroke-width="1.2" fill-opacity="0.9"/>
<circle cx="456.6" cy="258.1" r="3.6" fill="#fff" stroke="#222" stroke-width="1.2" fill-opacity="0.9"/>
<circle cx="472.2" cy="262.1" r="3.6" fill="#fff" stroke="#222" stroke-width="1.2" fill-opacity="0.9"/>
<circle cx="472.2" cy="268.1" r="3.6" fill="#fff" stroke="#222" stroke-width="1.2" fill-opacity="0.9"/>
<circle cx="475.3" cy="268.8" r="3.6" fill="#fff" stroke="#222" stroke-width="1.2" fill-opacity="0.9"/>
<circle cx="478.5" cy="269.5" r="3.6" fill="#fff" stroke="#222" stroke-width="1.2" fill-opacity="0.9"/>
<circle cx="481.6" cy="270.3" r="3.6" fill="#fff" stroke="#222" stroke-width="1.2" fill-opacity="0.9"/>
<circle cx="484.7" cy="271.0" r="3.6" fill="#fff" stroke="#222" stroke-width="1.2" fill-opacity="0.9"/>
<circle cx="487.9" cy="271.8" r="3.6" fill="#fff" stroke="#222" stroke-width="1.2" fill-opacity="0.9"/>
<circle cx="491.0" cy="272.6" r="3.6" fill="#fff" stroke="#222" stroke-width="1.2" fill-opacity="0.9"/>
<polygon points="492.6,230.5 504.9,230.5 508.3,232.3 519.1,232.8 528.9,233.6 534.5,235.1 542.9,238.0 548.6,244.9 553.1,247.7 561.1,250.6 566.8,248.8 573.6,250.6 587.9,251.8 588.2,251.8 587.9,285.3 587.3,285.3 570.8,282.5 565.8,281.0 565.4,269.0 564.5,268.3 559.7,268.0 555.4,271.3 552.9,275.8 549.4,275.0 546.3,271.1 542.9,261.5 540.4,259.0 537.9,256.0 532.2,254.0 525.9,252.0 523.1,243.6 518.5,241.9 511.1,241.3 508.9,249.3 504.9,249.3 502.9,248.8 502.0,241.3 495.2,241.3 492.6,243.6" fill="#1f77b4"/>
<polyline points="493.4,243.6 495.2,241.3 502.0,241.3 502.9,248.8 504.9,249.3 508.9,249.3 511.1,241.3 518.5,241.9 523.1,243.6 525.9,252.0 532.2,254.0 537.9,256.0 540.4,259.0 542.9,261.5 546.3,271.1 549.4,275.0 552.9,275.8 555.4,271.3 559.7,268.0 564.5,268.3 565.4,269.0" fill="none" stroke="#111" stroke-width="2.8" stroke-linejoin="round" stroke-linecap="butt" />
<polyline points="536.9,256.8 539.4,259.8 541.9,262.3 545.3,271.9 548.4,275.8 551.9,276.6 554.4,272.1 558.7,268.8" fill="none" stroke="#000" stroke-width="3.2" stroke-linejoin="round" stroke-linecap="butt" />
<polyline points="511.1,242.7 515.4,243.7 518.5,243.3 523.1,245.1 525.9,253.1 529.4,254.5 533.4,255.0 537.9,257.5 541.4,262.0" fill="none" stroke="#111" stroke-width="2.8" stroke-linejoin="round" stroke-linecap="butt" />
<polyline points="495.2,242.5 498.4,243.3 502.0,242.8" fill="none" stroke="#222" stroke-width="2.8" stroke-linejoin="round" stroke-linecap="butt" />
<polyline points="493.4,230.5 504.9,230.5 508.3,232.3 519.1,232.8 528.9,233.6 534.5,235.1 542.9,238.0 548.6,244.9 553.1,247.7 561.1,250.6 566.8,248.8 573.6,250.6 587.9,251.8" fill="none" stroke="#000" stroke-width="2.6" stroke-linejoin="round" stroke-linecap="butt" />
<circle cx="506.6" cy="250.5" r="3.6" fill="#fff" stroke="#222" stroke-width="1.2" fill-opacity="0.9"/>
<circle cx="507.0" cy="253.0" r="3.6" fill="#fff" stroke="#222" stroke-width="1.2" fill-opacity="0.9"/>
<circle cx="507.4" cy="255.5" r="3.6" fill="#fff" stroke="#222" stroke-width="1.2" fill-opacity="0.9"/>
<circle cx="526.4" cy="255.0" r="3.6" fill="#fff" stroke="#222" stroke-width="1.2" fill-opacity="0.9"/>
<circle cx="526.9" cy="257.5" r="3.6" fill="#fff" stroke="#222" stroke-width="1.2" fill-opacity="0.9"/>
<circle cx="533.2" cy="257.0" r="3.6" fill="#fff" stroke="#222" stroke-width="1.2" fill-opacity="0.9"/>
<circle cx="533.6" cy="259.2" r="3.6" fill="#fff" stroke="#222" stroke-width="1.2" fill-opacity="0.9"/>
<circle cx="540.6" cy="265.1" r="3.6" fill="#fff" stroke="#222" stroke-width="1.2" fill-opacity="0.9"/>
<circle cx="541.0" cy="267.1" r="3.6" fill="#fff" stroke="#222" stroke-width="1.2" fill-opacity="0.9"/>
<circle cx="550.9" cy="276.9" r="3.6" fill="#fff" stroke="#222" stroke-width="1.2" fill-opacity="0.9"/>
<circle cx="551.2" cy="278.7" r="3.6" fill="#fff" stroke="#222" stroke-width="1.2" fill-opacity="0.9"/>
<circle cx="566.8" cy="283.0" r="3.6" fill="#fff" stroke="#222" stroke-width="1.2" fill-opacity="0.9"/>
<circle cx="566.8" cy="289.0" r="3.6" fill="#fff" stroke="#222" stroke-width="1.2" fill-opacity="0.9"/>
<circle cx="569.9" cy="289.8" r="3.6" fill="#fff" stroke="#222" stroke-width="1.2" fill-opacity="0.9"/>
<circle cx="573.1" cy="290.6" r="3.6" fill="#fff" stroke="#222" stroke-width="1.2" fill-opacity="0.9"/>
<circle cx="576.2" cy="291.4" r="3.6" fill="#fff" stroke="#222" stroke-width="1.2" fill-opacity="0.9"/>
<circle cx="579.3" cy="292.2" r="3.6" fill="#fff" stroke="#222" stroke-width="1.2" fill-opacity="0.9"/>
<circle cx="582.5" cy="293.0" r="3.6" fill="#fff" stroke="#222" stroke-width="1.2" fill-opacity="0.9"/>
<circle cx="585.6" cy="293.8" r="3.6" fill="#fff" stroke="#222" stroke-width="1.2" fill-opacity="0.9"/>
</g>
</svg>
</body></html>
